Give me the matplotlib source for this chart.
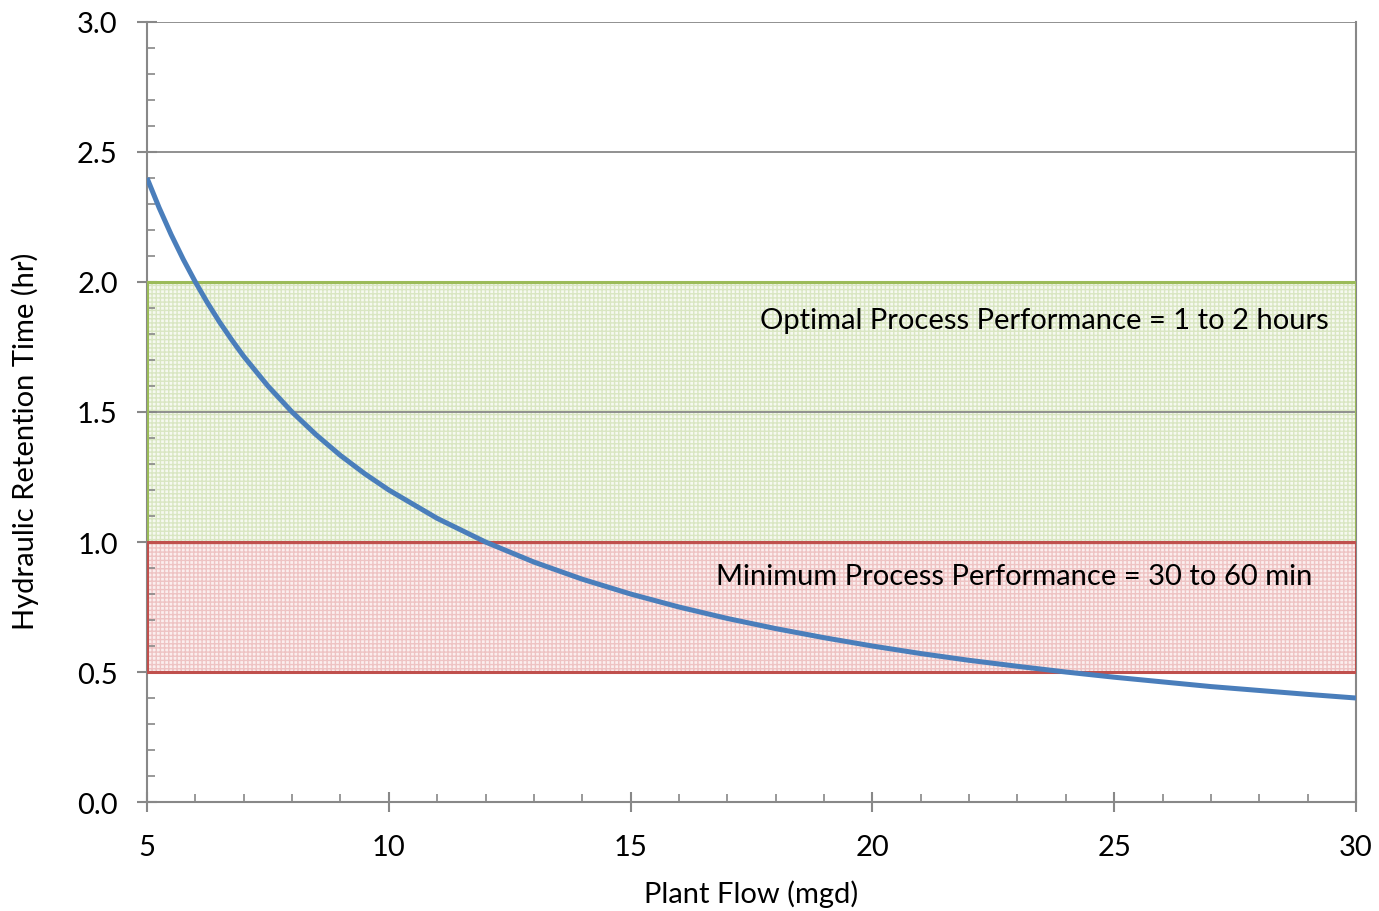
import matplotlib
matplotlib.use("Agg")
import matplotlib.pyplot as plt
from matplotlib.patches import Rectangle
from matplotlib.ticker import MultipleLocator

plt.rcParams['font.family'] = ['Lato', 'DejaVu Sans']

# plant flow (mgd) vs hydraulic retention time (hr)
flow = [5, 5.25, 5.5, 5.75, 6, 6.25, 6.5, 6.75, 7, 7.5, 8, 8.5, 9, 9.5, 10,
        11, 12, 13, 14, 15, 16, 17, 18, 19, 20, 21, 22, 23, 24, 25, 26, 27,
        28, 29, 30]
hrt = [2.4, 2.286, 2.182, 2.087, 2.0, 1.92, 1.846, 1.778, 1.714, 1.6, 1.5,
       1.412, 1.333, 1.263, 1.2, 1.091, 1.0, 0.923, 0.857, 0.8, 0.75, 0.706,
       0.667, 0.632, 0.6, 0.571, 0.545, 0.522, 0.5, 0.48, 0.462, 0.444,
       0.429, 0.414, 0.4]

# performance bands: (low, high) and their labels
optimal_band = (1.0, 2.0)
optimal_label = "Optimal Process Performance = 1 to 2 hours"
minimum_band = (0.5, 1.0)
minimum_label = "Minimum Process Performance = 30 to 60 min"

fig = plt.figure(figsize=(13.79, 9.12), dpi=100)
ax = fig.add_axes([0.1066, 0.1195, 0.8767, 0.8553])

gray = '#888888'

def band(lo, hi, fill, hatch_col, edge):
    ax.add_patch(Rectangle((5, lo), 25, hi - lo, facecolor=fill, edgecolor=hatch_col,
                           hatch='++++', linewidth=0, zorder=1))
    ax.add_patch(Rectangle((5, lo), 25, hi - lo, facecolor='none', edgecolor=edge,
                           linewidth=2.2, zorder=3))

band(*optimal_band, '#f6f9f0', '#d9e6c2', '#9bbb59')
band(*minimum_band, '#fbeeee', '#eec3c3', '#c0504d')

ax.plot(flow, hrt, color='#4a7ebb', linewidth=3.6, zorder=4, solid_capstyle='butt')

ax.text(29.44, 1.854, optimal_label, ha='right', va='center', fontsize=21, zorder=5)
ax.text(29.09, 0.869, minimum_label, ha='right', va='center', fontsize=21, zorder=5)

ax.set_xlim(5, 30)
ax.set_ylim(0, 3.0)
ax.xaxis.set_major_locator(MultipleLocator(5))
ax.xaxis.set_minor_locator(MultipleLocator(1))
ax.yaxis.set_major_locator(MultipleLocator(0.5))
ax.yaxis.set_minor_locator(MultipleLocator(0.1))
ax.yaxis.set_major_formatter(matplotlib.ticker.FormatStrFormatter('%.1f'))

ax.grid(True, which='major', axis='y', color=gray, linewidth=1.3, zorder=2)
ax.set_axisbelow(False)

ax.spines['top'].set_visible(False)
for s in ['left', 'bottom', 'right']:
    ax.spines[s].set_color(gray)
    ax.spines[s].set_linewidth(1.5)

ax.tick_params(which='major', direction='inout', length=14, width=1.5, color=gray,
               labelsize=21)
ax.tick_params(axis='x', which='major', pad=16)
ax.tick_params(axis='y', which='major', pad=14)
ax.tick_params(which='minor', direction='in', length=6, width=1.2, color=gray)

ax.set_xlabel('Plant Flow (mgd)', fontsize=21, labelpad=14)
ax.set_ylabel('Hydraulic Retention Time (hr)', fontsize=21)
ax.yaxis.set_label_coords(-0.089, 0.464)

fig.savefig('out.png', dpi=100)
